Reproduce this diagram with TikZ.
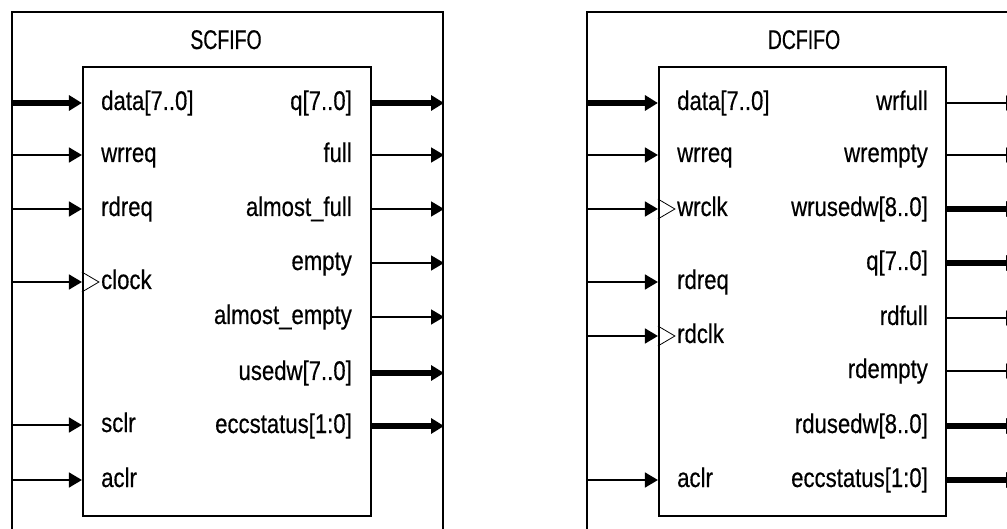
\documentclass[tikz,border=0pt]{standalone}
\usepackage{fontspec}
\setmainfont[FakeStretch=0.82,FakeBold=0.4]{Liberation Sans}
\newfontfamily\titrefont[FakeStretch=0.72,FakeBold=0.4]{Liberation Sans}
\usepackage{tikz}
\usetikzlibrary{positioning,arrows.meta}

\begin{document}
\begin{tikzpicture}[x=1pt,y=-1pt]
        \tikzset{
          cadre/.style={draw,line width=2pt,minimum width=431pt,minimum height=548pt,inner sep=0pt},
          bloc/.style={draw,line width=2.2pt,minimum height=449pt,inner sep=0pt},
          texte/.style={font=\fontsize{27}{32}\selectfont,inner sep=0pt},
          titre/.style={texte,font=\fontsize{27}{32}\selectfont\titrefont,anchor=base},
          port gauche/.style={texte,anchor=west,text height=14pt,text depth=0pt},
          port droit/.style={port gauche,anchor=east},
          fil/.style={-{Triangle[length=13pt,width=15pt]},line width=1.8pt},
          bus/.style={fil,line width=5.5pt},
          horloge/.style={line width=0.8pt,line join=miter},
          }
        \useasboundingbox (0,0) rectangle (1007,529);
        \clip (0,0) rectangle (1007,529);

        % SCFIFO
        \node[cadre] (a) at (227.5,286) {};
        \node[bloc, minimum width=288pt] (ai) at (227,291.3) {};
        \node[titre] (at) at (226,49) {SCFIFO};
        \node[port gauche] (a1) at (101,103) {data[7..0]};
        \node[port gauche] (a2) at (101,155) {wrreq};
        \node[port gauche] (a3) at (101,209) {rdreq};
        \node[port gauche] (a4) at (101,282) {clock};
        \node[port gauche] (a5) at (101,425) {sclr};
        \node[port gauche] (a6) at (101,480) {aclr};
        \node[port droit] (b1) at (352,103) {q[7..0]};
        \node[port droit] (b2) at (352,155) {full};
        \node[port droit] (b3) at (352,209) {almost\_full};
        \node[port droit] (b4) at (352,263) {empty};
        \node[port droit] (b5) at (352,317) {almost\_empty};
        \node[port droit] (b6) at (352,373) {usedw[7..0]};
        \node[port droit] (b7) at (352,426) {eccstatus[1:0]};

        \draw[bus] (a.west |- a1.west) -- (ai.west |- a1.west);
        \draw[fil] (a.west |- a2.west) -- (ai.west |- a2.west);
        \draw[fil] (a.west |- a3.west) -- (ai.west |- a3.west);
        \draw[fil] (a.west |- a4.west) -- (ai.west |- a4.west);
        \draw[fil] (a.west |- a5.west) -- (ai.west |- a5.west);
        \draw[fil] (a.west |- a6.west) -- (ai.west |- a6.west);
        \draw[horloge] (ai.west |- a4.west) ++(0,-10) -- ++(17,10) -- ++(-17,10);
        \draw[bus] (ai.east |- b1.east) -- (a.east |- b1.east);
        \draw[fil] (ai.east |- b2.east) -- (a.east |- b2.east);
        \draw[fil] (ai.east |- b3.east) -- (a.east |- b3.east);
        \draw[fil] (ai.east |- b4.east) -- (a.east |- b4.east);
        \draw[fil] (ai.east |- b5.east) -- (a.east |- b5.east);
        \draw[bus] (ai.east |- b6.east) -- (a.east |- b6.east);
        \draw[bus] (ai.east |- b7.east) -- (a.east |- b7.east);

        % DCFIFO
        \node[cadre] (c) at (802.5,286) {};
        \node[bloc, minimum width=287pt] (ci) at (802.5,291.3) {};
        \node[titre] (ct) at (804,49) {DCFIFO};
        \node[port gauche] (c1) at (677,103) {data[7..0]};
        \node[port gauche] (c2) at (677,155) {wrreq};
        \node[port gauche] (c3) at (677,209) {wrclk};
        \node[port gauche] (c4) at (677,282) {rdreq};
        \node[port gauche] (c5) at (677,336) {rdclk};
        \node[port gauche] (c6) at (677,480) {aclr};
        \node[port droit] (d1) at (928,103) {wrfull};
        \node[port droit] (d2) at (928,155) {wrempty};
        \node[port droit] (d3) at (928,209) {wrusedw[8..0]};
        \node[port droit] (d4) at (928,263) {q[7..0]};
        \node[port droit] (d5) at (928,318) {rdfull};
        \node[port droit] (d6) at (928,371) {rdempty};
        \node[port droit] (d7) at (928,426) {rdusedw[8..0]};
        \node[port droit] (d8) at (928,480) {eccstatus[1:0]};

        \draw[bus] (c.west |- c1.west) -- (ci.west |- c1.west);
        \draw[fil] (c.west |- c2.west) -- (ci.west |- c2.west);
        \draw[fil] (c.west |- c3.west) -- (ci.west |- c3.west);
        \draw[fil] (c.west |- c4.west) -- (ci.west |- c4.west);
        \draw[fil] (c.west |- c5.west) -- (ci.west |- c5.west);
        \draw[fil] (c.west |- c6.west) -- (ci.west |- c6.west);
        \draw[horloge] (ci.west |- c3.west) ++(0,-10) -- ++(17,10) -- ++(-17,10);
        \draw[horloge] (ci.west |- c5.west) ++(0,-10) -- ++(17,10) -- ++(-17,10);
        \draw[fil] (ci.east |- d1.east) -- (c.east |- d1.east);
        \draw[fil] (ci.east |- d2.east) -- (c.east |- d2.east);
        \draw[bus] (ci.east |- d3.east) -- (c.east |- d3.east);
        \draw[bus] (ci.east |- d4.east) -- (c.east |- d4.east);
        \draw[fil] (ci.east |- d5.east) -- (c.east |- d5.east);
        \draw[fil] (ci.east |- d6.east) -- (c.east |- d6.east);
        \draw[bus] (ci.east |- d7.east) -- (c.east |- d7.east);
        \draw[bus] (ci.east |- d8.east) -- (c.east |- d8.east);
      \end{tikzpicture}
\end{document}
